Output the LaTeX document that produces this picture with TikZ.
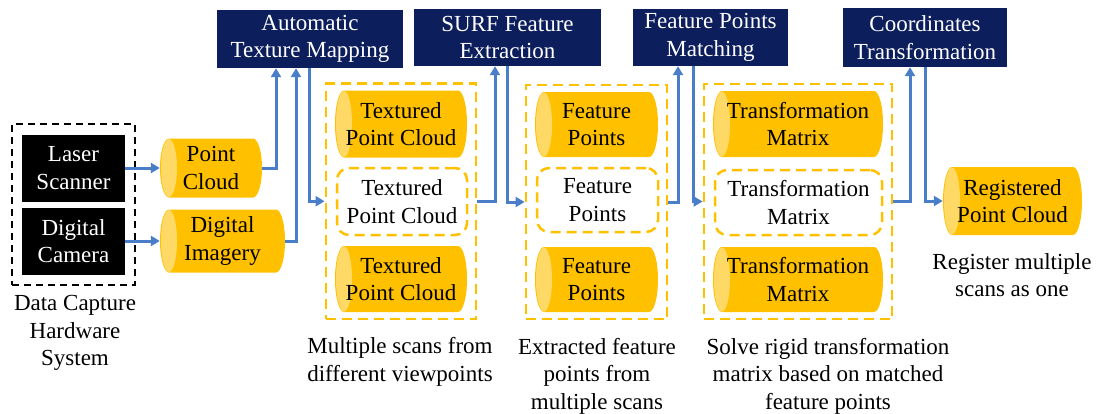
\documentclass[tikz,border=0pt]{standalone}
\usepackage{fontspec}
\setmainfont{Liberation Serif}
\newfontfamily\labelfont{Liberation Serif}
\usetikzlibrary{arrows.meta,%
	calc,%
	fit}
\definecolor{navy}{RGB}{12,30,92}
\definecolor{gold}{RGB}{255,192,0}
\definecolor{goldlight}{RGB}{255,217,102}
\definecolor{flowblue}{RGB}{74,126,200}

\begin{document}
\begin{tikzpicture}[x=1pt,y=-1pt,font=\labelfont\fontsize{23}{27.5}\selectfont,
	hw box/.style={rectangle,fill=black,text=white,align=center,minimum width=103,minimum height=67,inner sep=0},
	step box/.style={rectangle,fill=navy,text=white,align=center,inner sep=0},
	data cyl/.style={rectangle,align=center,inner sep=0,
		path picture={
			\fill[gold] let \p1=(path picture bounding box.south west),\p2=(path picture bounding box.north east),\n1={(\y2-\y1)/2} in
				(\x1+9pt,\y2) -- (\x2-9pt,\y2) arc[start angle=90,end angle=-90,x radius=9pt,y radius=\n1]
				-- (\x1+9pt,\y1) arc[start angle=270,end angle=90,x radius=9pt,y radius=\n1] -- cycle;
			\fill[goldlight] let \p1=(path picture bounding box.south west),\p2=(path picture bounding box.north east),\n1={(\y2-\y1)/2} in
				(\x1+9pt,\y1+\n1) ellipse[x radius=8pt,y radius=\n1-0.5pt];
		}},
	dash cyl/.style={rectangle,rounded corners=12,draw=gold,line width=2.5,dash pattern=on 10 off 6,fill=white,align=center,inner sep=0},
	group box/.style={rectangle,draw=gold,line width=2.5,dash pattern=on 10 off 6,inner xsep=9,inner ysep=7},
	flow/.style={draw=flowblue,line width=3,-{Triangle[width=10,length=9]}},
	caption/.style={align=center,inner sep=0}]
	\useasboundingbox (0,0) rectangle (1097,413);
	% hardware
	\node[hw box] (laser) at (73.5,168) {Laser\\Scanner};
	\node[hw box] (camera) at (73.5,241) {Digital\\Camera};
	\node[draw,line width=2,dash pattern=on 7 off 5,inner sep=10,fit=(laser)(camera)] (hw) {};
	\node[caption] (hwcap) at (75,333) {Data Capture\\Hardware\\System};
	% raw data
	\node[data cyl,minimum width=102,minimum height=59] (pc) at (211,168) {Point\\Cloud};
	\node[data cyl,minimum width=125,minimum height=63] (img) at (222.5,241) {Digital\\Imagery};
	% processing steps
	\node[step box,minimum width=186,minimum height=58] (atm) at (310,39) {Automatic\\Texture Mapping};
	\node[step box,minimum width=187,minimum height=57] (surf) at (507.5,37.5) {SURF Feature\\Extraction};
	\node[step box,minimum width=155,minimum height=57] (fpm) at (710.5,37.5) {Feature Points\\Matching};
	\node[step box,minimum width=164,minimum height=59] (ct) at (925,37.5) {Coordinates\\Transformation};
	% textured scans
	\node[data cyl,minimum width=132,minimum height=67] (tpc1) at (401,124) {Textured\\Point Cloud};
	\node[dash cyl,minimum width=130,minimum height=67] (tpc2) at (402,201.5) {Textured\\Point Cloud};
	\node[data cyl,minimum width=132,minimum height=66] (tpc3) at (401,279) {Textured\\Point Cloud};
	\node[group box,fit=(tpc1)(tpc3)] (grp1) {};
	% feature points
	\node[data cyl,minimum width=123,minimum height=65] (fp1) at (596.5,124.5) {Feature\\Points};
	\node[dash cyl,minimum width=121,minimum height=64] (fp2) at (597.5,200) {Feature\\Points};
	\node[data cyl,minimum width=123,minimum height=65] (fp3) at (596.5,279.5) {Feature\\Points};
	\node[group box,fit=(fp1)(fp3)] (grp2) {};
	% transformation matrices
	\node[data cyl,minimum width=170,minimum height=66] (tm1) at (798,124) {Transformation\\Matrix};
	\node[dash cyl,minimum width=167,minimum height=65] (tm2) at (798.5,202.5) {Transformation\\Matrix};
	\node[data cyl,minimum width=170,minimum height=65] (tm3) at (798,279.5) {Transformation\\Matrix};
	\node[group box,fit=(tm1)(tm3)] (grp3) {};
	% result
	\node[data cyl,minimum width=139,minimum height=68] (reg) at (1012.5,201) {Registered\\Point Cloud};
	\node[caption] (regcap) at (1012,275) {Register multiple\\scans as one};
	\node[caption] (cap1) at (400,362) {Multiple scans from\\different viewpoints};
	\node[caption] (cap2) at (597,376) {Extracted feature\\points from\\multiple scans};
	\node[caption] (cap3) at (828,376) {Solve rigid transformation\\matrix based on matched\\feature points};
	% connectors
	\draw[flow] (laser) -- (pc);
	\draw[flow] (camera) -- (img);
	\draw[flow] (pc.east) -| ([xshift=-34]atm.south);
	\draw[flow] (img.east) -| ([xshift=-14]atm.south);
	\draw[flow] ([xshift=-1]atm.south) |- (grp1.west);
	\draw[flow] (grp1.east) -| ([xshift=-12.5]surf.south);
	\draw[flow] (surf.south) |- (grp2.west);
	\draw[flow] (grp2.east) -| ([xshift=-32.5]fpm.south);
	\draw[flow] ([xshift=-17.5]fpm.south) |- (grp3.west);
	\draw[flow] (grp3.east) -| ([xshift=-15]ct.south);
	\draw[flow] (ct.south) |- (reg.west);
\end{tikzpicture}
\end{document}
